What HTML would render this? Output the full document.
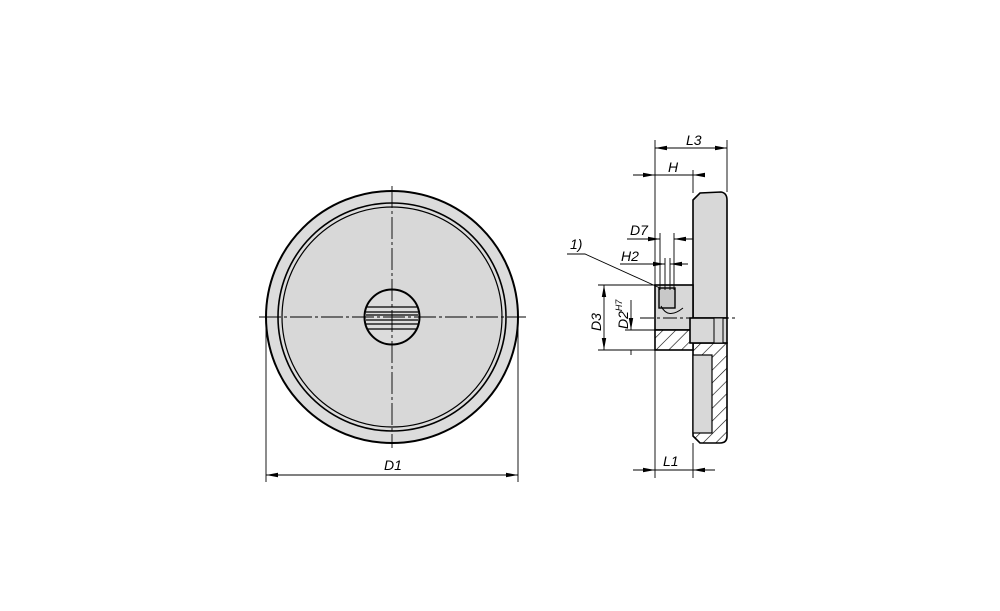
<!DOCTYPE html>
<html><head><style>body{margin:0;background:#fff}svg{display:block}text{font-family:"Liberation Sans",sans-serif;font-style:italic;font-size:14px;fill:#000}</style></head>
<body>
<svg width="1000" height="611" viewBox="0 0 1000 611" xmlns="http://www.w3.org/2000/svg">
<defs>
<marker id="a" markerWidth="12" markerHeight="6" refX="12" refY="3" orient="auto-start-reverse" markerUnits="userSpaceOnUse"><path d="M0,0.8 L12,3 L0,5.2z" fill="#000"/></marker>
<pattern id="h" width="9" height="9" patternUnits="userSpaceOnUse" patternTransform="rotate(45)"><rect width="9" height="9" fill="#fff"/><line x1="0" y1="0" x2="0" y2="9" stroke="#000" stroke-width="1.2"/></pattern>
</defs>
<circle cx="392" cy="317" r="126" fill="#dcdcdc" stroke="#000" stroke-width="2"/>
<circle cx="392" cy="317" r="114" fill="none" stroke="#000" stroke-width="1.6"/>
<circle cx="392" cy="317" r="110" fill="#d8d8d8" stroke="#000" stroke-width="1.2"/>
<circle cx="392" cy="317" r="27.5" fill="#dcdcdc" stroke="#000" stroke-width="2"/>
<g stroke="#000" stroke-width="1.2">
<line x1="367" y1="307" x2="417" y2="307"/><line x1="366" y1="312" x2="418" y2="312"/><line x1="366" y1="315" x2="418" y2="315"/><line x1="366" y1="320" x2="418" y2="320"/><line x1="366" y1="324" x2="418" y2="324"/><line x1="367" y1="329" x2="417" y2="329"/>
</g>
<g stroke="#000" stroke-width="0.9" stroke-dasharray="22,3,3,3">
<line x1="259" y1="317" x2="526" y2="317"/><line x1="392" y1="186" x2="392" y2="448"/>
</g>
<g stroke="#000" stroke-width="0.9">
<line x1="266" y1="320" x2="266" y2="482"/><line x1="518" y1="320" x2="518" y2="482"/>
<line x1="266" y1="475" x2="518" y2="475" marker-start="url(#a)" marker-end="url(#a)"/>
</g>
<text x="384" y="470">D1</text>
<g stroke="#000" stroke-width="1.6">
<path d="M693,200 L700,193 L721,192 Q727,193 727,200 L727,318 L693,318 Z" fill="#d8d8d8"/>
<path d="M693,343 L727,343 L727,436 Q727,443 720,443 L700,443 L693,436 Z" fill="url(#h)"/>
<rect x="693" y="355" width="19" height="78" fill="#d8d8d8" stroke-width="1.2"/>
<rect x="655" y="285" width="38" height="45" fill="#d8d8d8"/>
<rect x="655" y="330" width="38" height="20" fill="url(#h)"/>
<rect x="690" y="318" width="37" height="25" fill="#d8d8d8"/>
<rect x="714" y="318" width="9" height="25" fill="#d8d8d8" stroke-width="1"/>
<rect x="659" y="288" width="16" height="20" fill="#c8c8c8" stroke-width="1.4"/>
<path d="M661,306 Q668,320 683,308" fill="none" stroke-width="1"/>
</g>
<g stroke="#000" stroke-width="0.9" fill="none">
<line x1="655" y1="140" x2="655" y2="478"/><line x1="727" y1="140" x2="727" y2="192"/>
<line x1="655" y1="148" x2="727" y2="148" marker-start="url(#a)" marker-end="url(#a)"/>
<line x1="693" y1="170" x2="693" y2="193"/>
<line x1="633" y1="175" x2="655" y2="175" marker-end="url(#a)"/><line x1="705" y1="175" x2="693" y2="175" marker-end="url(#a)"/><line x1="655" y1="175" x2="693" y2="175"/>
<line x1="660" y1="233" x2="660" y2="290"/><line x1="674" y1="233" x2="674" y2="290"/>
<line x1="627" y1="239" x2="660" y2="239" marker-end="url(#a)"/><line x1="693" y1="239" x2="674" y2="239" marker-end="url(#a)"/>
<line x1="665" y1="258" x2="665" y2="290"/><line x1="670" y1="258" x2="670" y2="290"/>
<line x1="620" y1="264" x2="665" y2="264" marker-end="url(#a)"/><line x1="688" y1="264" x2="670" y2="264" marker-end="url(#a)"/>
<path d="M567,254 L585,254 L660,288"/>
<line x1="598" y1="285" x2="655" y2="285"/><line x1="598" y1="350" x2="655" y2="350"/>
<line x1="604" y1="285" x2="604" y2="350" marker-start="url(#a)" marker-end="url(#a)"/>
<line x1="625" y1="330" x2="655" y2="330"/>
<line x1="631" y1="300" x2="631" y2="330" marker-end="url(#a)"/><line x1="631" y1="355" x2="631" y2="350"/>
<line x1="640" y1="318" x2="735" y2="318" stroke-dasharray="14,3,3,3"/>
<line x1="693" y1="443" x2="693" y2="478"/>
<line x1="633" y1="470" x2="655" y2="470" marker-end="url(#a)"/><line x1="715" y1="470" x2="693" y2="470" marker-end="url(#a)"/><line x1="655" y1="470" x2="693" y2="470"/>
</g>
<text x="686" y="145">L3</text>
<text x="668" y="172">H</text>
<text x="630" y="235">D7</text>
<text x="621" y="261">H2</text>
<text x="570" y="249">1)</text>
<text x="663" y="466">L1</text>
<text transform="translate(601,331) rotate(-90)">D3</text>
<text transform="translate(628,329) rotate(-90)">D2<tspan font-size="9" dy="-6">H7</tspan></text>
</svg>
</body></html>
